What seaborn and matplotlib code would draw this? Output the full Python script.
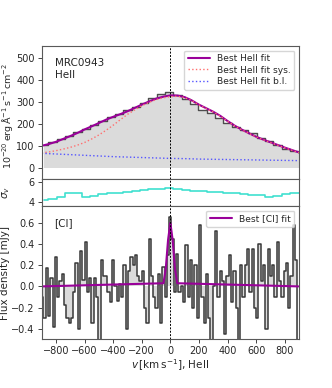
import numpy as np
import matplotlib
matplotlib.use('Agg')
import matplotlib.pyplot as plt
import seaborn as sns

# HeII spectrum, binned in velocity (bin centres start at -882 km/s, ~58 km/s wide)
heii_bin0 = -882
heii_binw = 58.3
heii_flux = [104, 118, 132, 147, 164, 180, 196, 214, 230, 244, 262, 278, 294, 318, 334, 345,
             331, 312, 290, 262, 250, 228, 205, 185, 172, 160, 138, 122, 105, 86, 80, 72]
sigma_v = [4.20, 4.30, 4.53, 4.96, 4.96, 4.57, 4.63, 4.80, 4.96, 4.96, 5.06, 5.15, 5.25, 5.32, 5.38, 5.42,
           5.38, 5.28, 5.18, 5.12, 5.08, 5.02, 4.96, 4.90, 4.82, 4.76, 4.70, 4.53, 4.63, 4.80, 4.96, 4.96]

# HeII fits, read every 50 km/s
fit_v = np.arange(-900, 901, 50)
fit_best = [102, 110, 120, 133, 146, 160, 176, 190, 205, 220, 233, 245, 258, 273, 288, 302, 315, 324, 330,
            329, 322, 307, 288, 272, 256, 237, 214, 193, 175, 159, 143, 130, 118, 106, 94, 83, 72]
fit_sys = [70, 74, 80, 87, 95, 105, 117, 133, 151, 172, 195, 220, 244, 264, 283, 298, 311, 319, 324,
           326, 320, 306, 287, 271, 255, 236, 213, 192, 174, 158, 142, 129, 117, 105, 93, 82, 71]
bl_v = np.arange(-900, 901, 100)
fit_bl = [68, 65, 62, 59, 56, 53, 51, 49, 47, 45, 44, 42, 41, 40, 39, 38, 37, 36, 35]

# [CI] spectrum, 16 km/s channels
ci_v = np.arange(-896, 897, 16)
ci_flux = [-0.10, -0.30, 0.17, -0.28, 0.08, -0.38, 0.28, -0.10, 0.05, 0.12,
           -0.18, -0.30, -0.35, -0.30, -0.05, 0.22, -0.40, 0.33, 0.06, 0.42,
           -0.05, 0.08, -0.35, 0.08, -0.10, -0.55, 0.25, 0.10, 0.10, -0.05,
           -0.15, 0.25, 0.00, -0.14, 0.02, -0.10, 0.20, -0.40, 0.15, 0.28,
           0.20, 0.30, 0.10, 0.05, 0.15, -0.20, -0.35, 0.45, 0.10, -0.10,
           -0.20, 0.12, -0.35, 0.18, -0.10, 0.30, 0.66, 0.45, -0.05, 0.31,
           -0.05, 0.00, -0.15, 0.39, -0.10, 0.25, -0.20, 0.20, -0.30, 0.58,
           -0.10, -0.35, 0.12, -0.30, -0.55, 0.00, 0.52, -0.10, 0.15, 0.05,
           -0.45, 0.10, 0.30, -0.15, 0.15, -0.20, -0.55, 0.20, -0.10, 0.20,
           0.35, -0.05, 0.35, -0.20, -0.30, 0.40, 0.05, 0.20, -0.40, 0.35,
           0.10, 0.20, -0.10, 0.42, 0.05, -0.10, 0.15, 0.22, -0.20, 0.10,
           0.58, 0.25, -0.55]
ci_fit_v = [-896, -48, -32, -16, 0, 16, 32, 48, 896]
ci_fit = [0.0, 0.03, 0.17, 0.44, 0.6, 0.44, 0.17, 0.03, 0.0]

heii_v = heii_bin0 + heii_binw * np.arange(len(heii_flux))

sns.set_style('ticks')
plt.rcParams['font.family'] = ['DejaVu Sans']
plt.rcParams['axes.edgecolor'] = '0.35'
plt.rcParams['axes.linewidth'] = 0.8

purple = '#990099'

fig = plt.figure(figsize=(3.32, 3.88), dpi=100)
ax1 = fig.add_axes([0.1256, 0.5387, 0.775, 0.3427])
ax2 = fig.add_axes([0.1256, 0.4691, 0.775, 0.0696], sharex=ax1)
ax3 = fig.add_axes([0.1256, 0.1255, 0.775, 0.3436], sharex=ax1)

# top: HeII
ax1.fill_between(heii_v, heii_flux, step='mid', color='0.86', lw=0)
ax1.step(heii_v, heii_flux, where='mid', color='0.3', lw=1)
sns.lineplot(x=fit_v, y=fit_best, ax=ax1, color=purple, lw=1.5, label='Best HeII fit')
sns.lineplot(x=fit_v, y=fit_sys, ax=ax1, color='#ff6f6f', lw=1, ls=':', label='Best HeII fit sys.')
sns.lineplot(x=bl_v, y=fit_bl, ax=ax1, color='#5555ff', lw=1, ls=':', label='Best HeII fit b.l.')
ax1.set_ylim(-48, 553)
ax1.set_yticks([0, 100, 200, 300, 400, 500])
ax1.set_ylabel(r'$10^{-20}\,\mathrm{erg\,\AA^{-1}\,s^{-1}\,cm^{-2}}$', fontsize=6.8)
ax1.text(0.05, 0.91, 'MRC0943\nHeII', transform=ax1.transAxes, fontsize=7.5, va='top')
ax1.legend(loc='upper right', fontsize=6.6, handlelength=2.4, borderpad=0.4, labelspacing=0.25)

# middle: sigma
sns.lineplot(x=heii_v, y=sigma_v, ax=ax2, color='#40e0d0', lw=1.2, drawstyle='steps-mid')
ax2.set_ylim(3.65, 6.35)
ax2.set_yticks([4, 6])
ax2.set_ylabel(r'$\sigma_v$', fontsize=7.5)

# bottom: [CI]
ax3.fill_between(ci_v, ci_flux, step='mid', color='0.86', lw=0)
ax3.step(ci_v, ci_flux, where='mid', color='0.22', lw=1.1)
sns.lineplot(x=ci_fit_v, y=ci_fit, ax=ax3, color=purple, lw=1.5, label='Best [CI] fit')
ax3.set_ylim(-0.5, 0.76)
ax3.set_yticks([-0.4, -0.2, 0.0, 0.2, 0.4, 0.6])
ax3.set_ylabel('Flux density [mJy]', fontsize=7.5)
ax3.text(0.05, 0.91, '[CI]', transform=ax3.transAxes, fontsize=7.5, va='top')
ax3.legend(loc='upper right', fontsize=6.6, handlelength=2.4, borderpad=0.4)
ax3.set_xlabel(r'$v\,[\mathrm{km\,s^{-1}}]$, HeII', fontsize=7.5, labelpad=1)

ax1.set_xlim(-900, 900)
ax1.set_xticks([-800, -600, -400, -200, 0, 200, 400, 600, 800])
for ax in (ax1, ax2, ax3):
    ax.axvline(0, color='k', ls=(0, (2, 1.5)), lw=0.7)
    ax.tick_params(labelsize=7, length=3, width=0.6, pad=2)
ax1.yaxis.set_label_coords(-0.105, 0.47)
ax2.yaxis.set_label_coords(-0.115, 0.5)
ax3.yaxis.set_label_coords(-0.125, 0.5)
for ax in (ax1, ax2):
    ax.tick_params(labelbottom=False, bottom=False)
    ax.set_xlabel('')

fig.savefig('out.png', dpi=100)
